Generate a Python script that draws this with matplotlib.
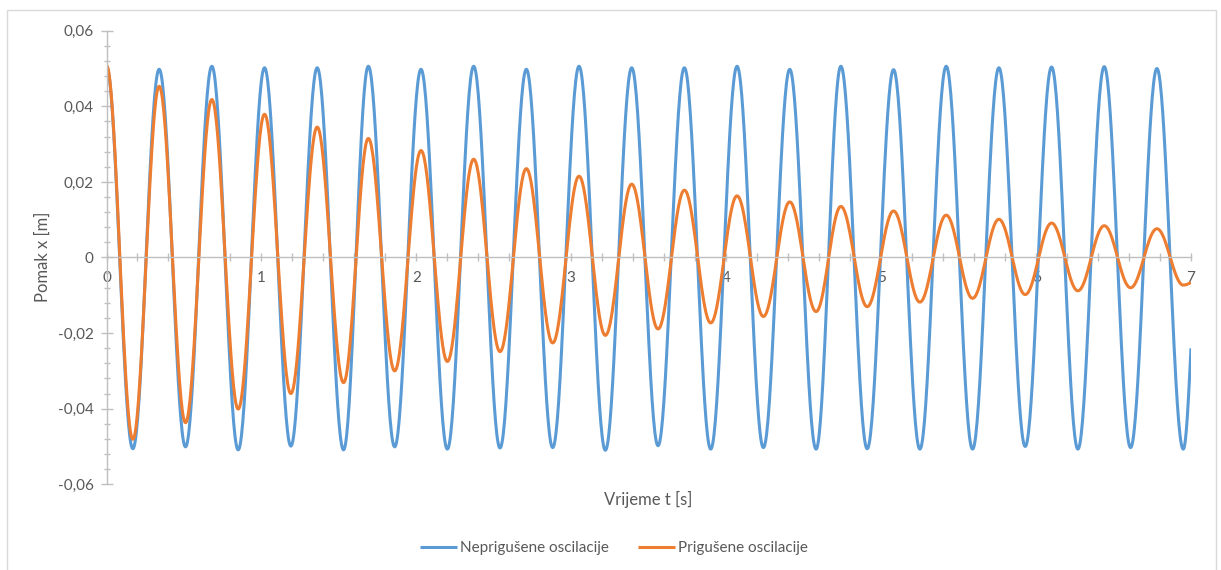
import numpy as np
import matplotlib
matplotlib.use("Agg")
import matplotlib.pyplot as plt
from matplotlib.patches import Rectangle
from matplotlib.ticker import MultipleLocator, FuncFormatter

# Turning points of both oscillations (time in s, displacement in m)
turn_times = [0.00, 0.17, 0.34, 0.51, 0.68, 0.85, 1.02, 1.19, 1.36, 1.53,
              1.69, 1.86, 2.03, 2.20, 2.37, 2.54, 2.71, 2.88, 3.05, 3.22,
              3.39, 3.56, 3.73, 3.90, 4.07, 4.24, 4.41, 4.58, 4.74, 4.91,
              5.08, 5.25, 5.42, 5.59, 5.76, 5.93, 6.10, 6.27, 6.44, 6.61,
              6.78, 6.95]
end_time = 7.00

undamped_turns = [0.0505, -0.0506, 0.0498, -0.0501, 0.0506, -0.0509, 0.0502,
                  -0.0499, 0.0502, -0.0509, 0.0506, -0.0501, 0.0498, -0.0507,
                  0.0506, -0.0504, 0.0498, -0.0503, 0.0506, -0.0510, 0.0502,
                  -0.0498, 0.0502, -0.0507, 0.0506, -0.0503, 0.0498, -0.0507,
                  0.0506, -0.0506, 0.0497, -0.0507, 0.0506, -0.0507, 0.0502,
                  -0.0500, 0.0504, -0.0507, 0.0505, -0.0503, 0.0500, -0.0507]
undamped_end = -0.0240

damped_turns = [0.0508, -0.0481, 0.0453, -0.0437, 0.0418, -0.0401, 0.0379,
                -0.0360, 0.0345, -0.0331, 0.0315, -0.0300, 0.0283, -0.0275,
                0.0260, -0.0249, 0.0235, -0.0226, 0.0215, -0.0206, 0.0194,
                -0.0189, 0.0178, -0.0173, 0.0163, -0.0156, 0.0147, -0.0143,
                0.0135, -0.0130, 0.0123, -0.0118, 0.0112, -0.0108, 0.0101,
                -0.0098, 0.0091, -0.0088, 0.0084, -0.0080, 0.0076, -0.0073]
damped_end = -0.0066

series_names = ["Neprigušene oscilacije", "Prigušene oscilacije"]
series_colors = ["#5B9BD5", "#ED7D31"]
x_ticks = [0, 1, 2, 3, 4, 5, 6, 7]
y_ticks = [-0.06, -0.04, -0.02, 0.0, 0.02, 0.04, 0.06]


def swing_path(times, turns, t_end, v_end, n=40):
    """Half-cosine swings between successive turning points,
    plus the rising start of the swing that is cut off at t_end."""
    ts, vs = [], []
    for i in range(len(times) - 1):
        s = np.linspace(0.0, 1.0, n, endpoint=False)
        ts.append(times[i] + (times[i + 1] - times[i]) * s)
        vs.append(turns[i] + (turns[i + 1] - turns[i]) * (1 - np.cos(np.pi * s)) / 2)
    s = np.linspace(0.0, 1.0, n)
    ts.append(times[-1] + (t_end - times[-1]) * s)
    vs.append(turns[-1] + (v_end - turns[-1]) * (1 - np.cos(np.pi / 2 * s)))
    return np.concatenate(ts), np.concatenate(vs)


plt.rcParams["font.family"] = ["Lato", "DejaVu Sans"]
text_color = "#595959"
axis_color = "#bfbfbf"

fig = plt.figure(figsize=(12.21, 5.70), dpi=100)
fig.add_artist(Rectangle((7 / 1221, -0.1), 1209 / 1221, 1.1 - 10 / 570,
                         transform=fig.transFigure, fill=False,
                         edgecolor="#d9d9d9", linewidth=1.0))

ax = fig.add_axes([106.5 / 1221, 1 - 484.3 / 570, (1191 - 106.5) / 1221,
                   (484.3 - 30.7) / 570])

for turns, v_end, name, color in [
        (undamped_turns, undamped_end, series_names[0], series_colors[0]),
        (damped_turns, damped_end, series_names[1], series_colors[1])]:
    t, x = swing_path(turn_times, turns, end_time, v_end)
    ax.plot(t, x, color=color, linewidth=2.2, label=name,
            solid_joinstyle="round", solid_capstyle="butt")

ax.set_xlim(0, 7)
ax.set_ylim(-0.06, 0.06)

for side in ["top", "right"]:
    ax.spines[side].set_visible(False)
ax.spines["bottom"].set_position(("data", 0))
for side in ["left", "bottom"]:
    ax.spines[side].set_color(axis_color)
    ax.spines[side].set_linewidth(1.0)

ax.set_xticks(x_ticks)
ax.xaxis.set_minor_locator(MultipleLocator(0.2))
ax.set_yticks(y_ticks)
ax.yaxis.set_minor_locator(MultipleLocator(0.004))


def comma_fmt(v, pos):
    if abs(v) < 1e-12:
        return "0"
    return f"{v:.2f}".replace(".", ",")


ax.yaxis.set_major_formatter(FuncFormatter(comma_fmt))
ax.xaxis.set_major_formatter(FuncFormatter(lambda v, p: f"{v:.0f}"))

ax.tick_params(axis="x", which="both", direction="inout", length=6,
               width=1, color=axis_color, labelsize=11,
               labelcolor=text_color, pad=6.5)
ax.tick_params(axis="y", which="major", direction="inout", length=8.5,
               width=1, color=axis_color, labelsize=11,
               labelcolor=text_color, pad=5)
ax.tick_params(axis="y", which="minor", direction="inout", length=4.5,
               width=1, color=axis_color)

fig.text(648 / 1221, 1 - 499 / 570, "Vrijeme t [s]", ha="center",
         va="center", fontsize=12, color=text_color)
fig.text(43 / 1221, 1 - 257 / 570, "Pomak x [m]", ha="center",
         va="center", rotation=90, fontsize=12, color=text_color)

leg = fig.legend(loc="center", bbox_to_anchor=(614 / 1221, 1 - 548 / 570),
                 ncol=2, frameon=False, fontsize=11, handlelength=2.4,
                 handletextpad=0.2, columnspacing=1.9)
for text in leg.get_texts():
    text.set_color(text_color)

fig.savefig("out.png", dpi=100, facecolor="white")
